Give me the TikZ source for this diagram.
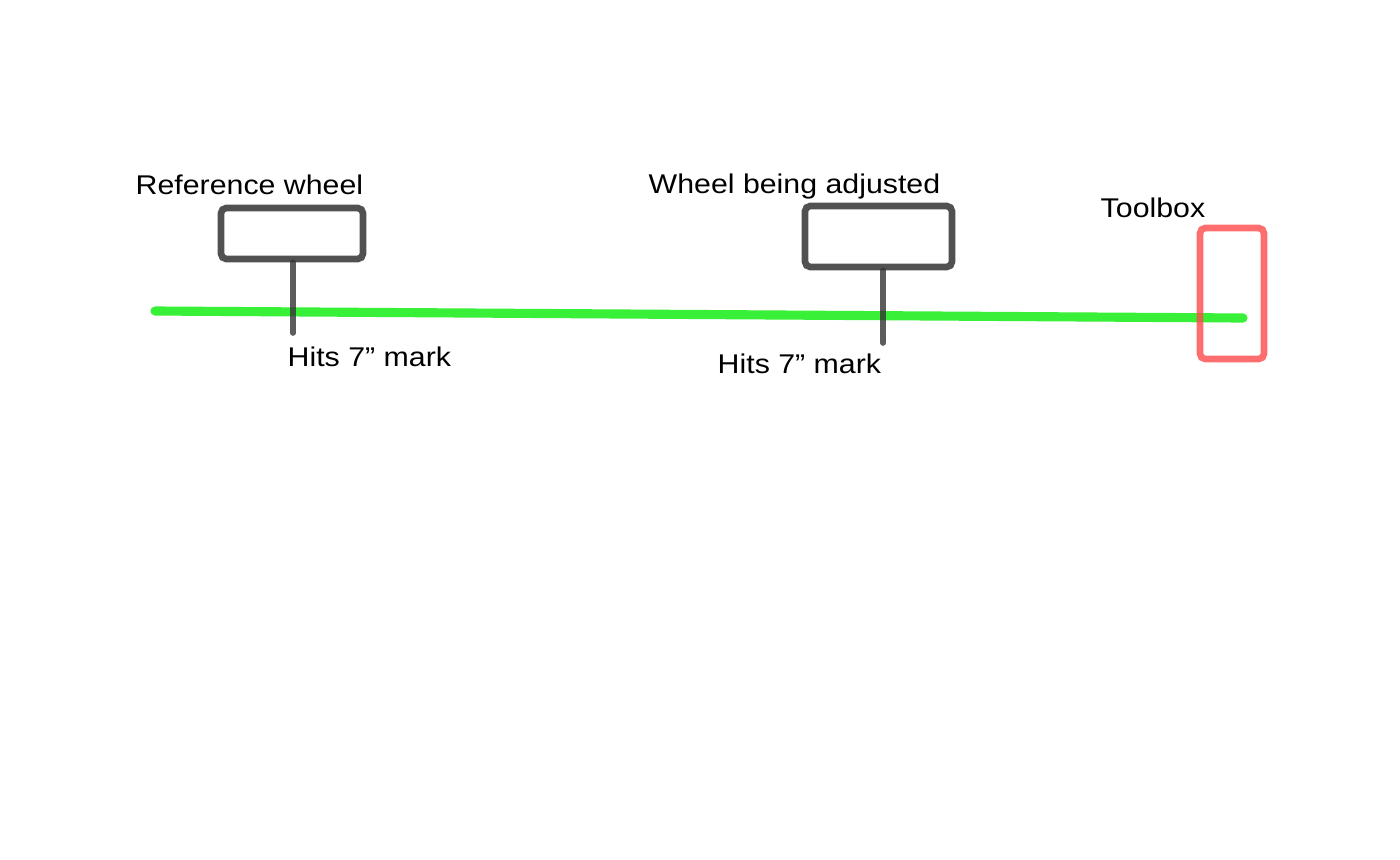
\documentclass[tikz,border=0pt]{standalone}
\usepackage{fontspec}
\setmainfont[FakeStretch=1.12]{Liberation Sans}
\usepackage{tikz}
\usetikzlibrary{calc}

\definecolor{trackgreen}{HTML}{22EE22}
\definecolor{wheelgray}{HTML}{333333}
\definecolor{toolred}{HTML}{FF4A4A}

\tikzset{
  wheelbox/.style={draw=wheelgray, line width=1.9pt, rounded corners=1.5pt, opacity=0.85, inner sep=0pt},
  label/.style={anchor=base west, inner sep=0pt, font=\fontsize{7.7}{9}\selectfont},
  stem/.style={draw=wheelgray, line width=1.6pt, line cap=round, opacity=0.8}
}

\begin{document}
\begin{tikzpicture}
  \useasboundingbox (0,0) rectangle (14,8.59);

  % ----- Track -----
  \coordinate (trackL) at (1.55, 5.48);
  \coordinate (trackR) at (12.43, 5.41);
  \draw[trackgreen, line width=2.6pt, line cap=round, opacity=0.9] (trackL) -- (trackR);

  % ----- Wheels -----
  \node[wheelbox, minimum width=1.42cm, minimum height=0.51cm] (refwheel) at (2.92, 6.255) {};
  \node[wheelbox, minimum width=1.47cm, minimum height=0.61cm] (adjwheel) at (8.785, 6.225) {};

  % Stems down to the track
  \coordinate (refhit) at (2.93, 5.26);
  \coordinate (adjhit) at (8.83, 5.16);
  \draw[stem] (refwheel.south -| refhit) -- (refhit);
  \draw[stem] (adjwheel.south -| adjhit) -- (adjhit);

  % ----- Toolbox -----
  \node[draw=toolred, line width=1.9pt, rounded corners=1.5pt, opacity=0.8, inner sep=0pt,
        minimum width=0.64cm, minimum height=1.31cm] (toolbox) at (12.32, 5.655) {};

  % ----- Labels -----
  \node[label] (reftext) at (1.35, 6.65) {Reference wheel};
  \node[label] (adjtext) at (6.48, 6.66) {Wheel being adjusted};
  \node[label] (tooltext) at (11.00, 6.42) {Toolbox};
  \node[label] (refhittext) at (2.87, 4.93) {Hits 7” mark};
  \node[label] (adjhittext) at (7.17, 4.86) {Hits 7” mark};
\end{tikzpicture}
\end{document}
